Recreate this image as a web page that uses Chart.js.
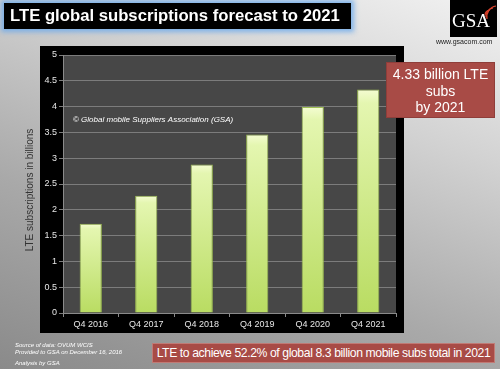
<!DOCTYPE html>
<html>
<head>
<meta charset="utf-8">
<script src="https://cdn.jsdelivr.net/npm/chart.js@4"></script>
<style>
html,body{margin:0;padding:0;}
body{width:500px;height:369px;overflow:hidden;position:relative;
 background:linear-gradient(200deg,#f2f2f2 0%,#d2d2d2 30%,#a9a9a9 65%,#8a8a8a 100%);
 font-family:'Liberation Sans',Arial,sans-serif;}
#c{position:absolute;left:0;top:0;}
.title{position:absolute;left:4px;top:3px;width:347px;height:26px;background:#000;
 box-shadow:0 0 5px 3px rgba(110,170,235,0.85);color:#fff;font-weight:bold;font-size:16.7px;
 line-height:26px;padding-left:6px;box-sizing:border-box;white-space:nowrap;}
.logo{position:absolute;left:450px;top:0px;width:47px;height:37px;background:#000;}
.logo span{position:absolute;left:2px;top:11px;color:#fff;font-family:'Liberation Serif','DejaVu Serif',serif;font-size:19px;line-height:19px;}
.logo svg{position:absolute;left:0;top:0;}
.www{position:absolute;left:436px;top:38px;font-size:7px;color:#222;}
.box1{position:absolute;left:386px;top:62px;width:109px;height:56px;background:#a84b46;
 border:1px solid #8f3e3a;box-sizing:border-box;color:#fff;font-size:14px;line-height:16.5px;text-align:center;padding-top:3px;}
.box2{position:absolute;left:152px;top:343px;width:343px;height:20px;background:#a84b46;
 border:1px solid #c07a75;box-sizing:border-box;color:#fff;font-size:12.2px;letter-spacing:-0.4px;line-height:18px;text-align:center;white-space:nowrap;}
.src{position:absolute;left:15px;color:#fff;font-style:italic;font-size:6px;white-space:nowrap;}
</style>
</head>
<body>
<canvas id="c" width="500" height="369"></canvas>
<div class="title">LTE global subscriptions forecast to 2021</div>
<div class="logo">
 <svg width="47" height="37" viewBox="0 0 47 37">
  <path d="M35 15 A5 5 0 0 1 40 10" stroke="#d9412b" stroke-width="1.2" fill="none"/>
  <path d="M36 17 A8 8 0 0 1 43 8" stroke="#d9412b" stroke-width="1.2" fill="none"/>
  <path d="M37 19 A11 11 0 0 1 46 6" stroke="#d9412b" stroke-width="1.2" fill="none"/>
 </svg>
 <span>GSA</span>
</div>
<div class="www">www.gsacom.com</div>
<div class="box1">4.33 billion LTE<br>subs<br>by 2021</div>
<div class="box2">LTE to achieve 52.2% of global 8.3 billion mobile subs total in 2021</div>
<div class="src" style="top:342px">Source of data: OVUM WCIS</div>
<div class="src" style="top:349px">Provided to GSA on December 16, 2016</div>
<div class="src" style="top:360px">Analysis by GSA</div>
<script>
const categories = ['Q4 2016','Q4 2017','Q4 2018','Q4 2019','Q4 2020','Q4 2021'];
const subscriptions = [1.73, 2.27, 2.88, 3.46, 3.99, 4.33];
const yAxisTitle = 'LTE subscriptions in billions';
const copyrightText = '\u00A9 Global mobile Suppliers Association (GSA)';

Chart.defaults.font.family = "'Liberation Sans', Arial, sans-serif";

const framePlugin = {
  id: 'frame',
  beforeDraw(chart) {
    const ctx = chart.ctx, a = chart.chartArea;
    ctx.save();
    ctx.fillStyle = '#000';
    ctx.fillRect(40, 46, 364, 287);
    ctx.fillStyle = '#474747';
    ctx.fillRect(a.left, a.top, a.right - a.left, a.bottom - a.top);
    ctx.restore();
  },
  beforeDatasetsDraw(chart) {
    const ctx = chart.ctx, a = chart.chartArea;
    ctx.save();
    ctx.fillStyle = '#ffffff';
    ctx.font = 'italic 8px "Liberation Sans", Arial, sans-serif';
    ctx.textBaseline = 'middle';
    ctx.fillText(copyrightText, a.left + 10, chart.scales.y.getPixelForValue(3.74));
    ctx.restore();
  },
  afterDraw(chart) {
    const ctx = chart.ctx;
    ctx.save();
    ctx.translate(30, 190);
    ctx.rotate(-Math.PI / 2);
    ctx.fillStyle = '#333333';
    ctx.font = '10px "Liberation Sans", Arial, sans-serif';
    ctx.textAlign = 'center';
    ctx.textBaseline = 'middle';
    ctx.fillText(yAxisTitle, 0, 0);
    ctx.restore();
  }
};

new Chart(document.getElementById('c'), {
  type: 'bar',
  data: {
    labels: categories,
    datasets: [{
      data: subscriptions,
      backgroundColor(ctx) {
        const chart = ctx.chart, a = chart.chartArea;
        if (!a) return '#cfe98a';
        const top = chart.scales.y.getPixelForValue(ctx.raw);
        const g = chart.ctx.createLinearGradient(0, top, 0, a.bottom);
        g.addColorStop(0, '#f4fcd2');
        g.addColorStop(0.06, '#e4f6b0');
        g.addColorStop(1, '#b9dc62');
        return g;
      },
      borderColor: '#9dbd52',
      borderWidth: 1,
      borderSkipped: 'bottom',
      barPercentage: 0.4,
      categoryPercentage: 1.0
    }]
  },
  options: {
    responsive: false,
    animation: false,
    layout: { padding: { left: 0, top: 55, right: 104, bottom: 36 } },
    plugins: { legend: { display: false }, tooltip: { enabled: false } },
    scales: {
      x: {
        afterFit(s) { s.height = 20; },
        grid: { display: true, drawOnChartArea: false, offset: true, tickLength: 4, color: '#8a8a8a' },
        border: { color: '#8a8a8a' },
        ticks: { color: '#e6e6e6', font: { size: 9 }, padding: 2 }
      },
      y: {
        min: 0, max: 5,
        afterFit(s) { s.width = 63; },
        grid: { color: '#7c7c7c', tickLength: 4, lineWidth: 1 },
        border: { color: '#8a8a8a' },
        ticks: { stepSize: 0.5, color: '#e6e6e6', font: { size: 9 }, padding: 2,
                 callback: v => String(Math.round(v * 10) / 10) }
      }
    }
  },
  plugins: [framePlugin]
});
</script>
</body>
</html>
